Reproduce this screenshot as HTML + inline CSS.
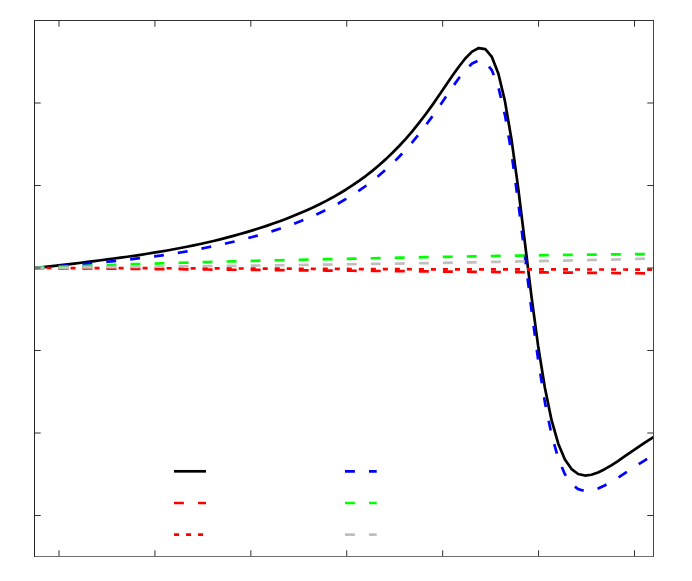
<!DOCTYPE html>
<html><head><meta charset="utf-8"><title>plot</title>
<style>
html,body{margin:0;padding:0;background:#ffffff;font-family:"Liberation Sans",sans-serif;}
svg{display:block}
</style></head>
<body>
<svg width="692" height="581" viewBox="0 0 692 581">
<rect x="0" y="0" width="692" height="581" fill="#ffffff"/>
<defs><clipPath id="c"><rect x="34.5" y="20.5" width="619" height="536"/></clipPath></defs>
<g clip-path="url(#c)" fill="none" stroke-width="2.7" stroke-linejoin="round" stroke-linecap="butt">
<path d="M34.50,268.00 L41.13,267.30 L47.76,266.59 L54.39,265.86 L61.02,265.11 L67.65,264.34 L74.28,263.56 L80.91,262.75 L87.54,261.92 L94.17,261.08 L100.80,260.24 L107.43,259.39 L114.06,258.53 L120.69,257.65 L127.32,256.74 L133.95,255.79 L140.58,254.80 L147.21,253.77 L153.84,252.70 L160.47,251.60 L167.10,250.46 L173.73,249.27 L180.36,248.04 L186.99,246.75 L193.62,245.39 L200.25,243.98 L206.88,242.50 L213.51,240.95 L220.14,239.34 L226.77,237.65 L233.40,235.89 L240.03,234.05 L246.66,232.13 L253.29,230.13 L259.92,228.04 L266.55,225.86 L273.18,223.58 L279.81,221.20 L286.44,218.70 L293.07,216.09 L299.70,213.35 L306.33,210.47 L312.96,207.44 L319.59,204.25 L326.22,200.87 L332.85,197.30 L339.48,193.51 L346.11,189.49 L352.74,185.21 L359.37,180.66 L366.00,175.80 L372.63,170.61 L379.26,165.06 L385.89,159.13 L392.52,152.80 L399.15,146.03 L405.78,138.80 L412.41,131.09 L419.04,122.90 L425.67,114.22 L432.30,105.10 L438.93,95.60 L445.56,85.86 L452.19,76.10 L458.82,66.71 L465.45,58.26 L472.08,51.63 L478.71,48.05 L485.34,49.13 L491.87,56.92 L498.33,73.53 L504.88,100.87 L511.51,139.50 L518.14,187.65 L524.77,241.49 L531.40,295.83 L538.10,345.67 L544.84,387.58 L551.57,420.18 L558.27,443.74 L564.90,459.52 L571.53,469.10 L578.16,474.01 L584.79,475.55 L591.42,474.77 L598.05,472.48 L604.68,469.21 L611.31,465.31 L617.94,461.01 L624.57,456.49 L631.20,451.92 L637.83,447.39 L644.46,442.94 L651.09,438.59 L657.72,434.38" stroke="#000000"/>
<path d="M34.50,268.00 L41.13,268.06 L47.76,268.12 L54.39,268.17 L61.02,268.23 L67.65,268.29 L74.28,268.35 L80.91,268.40 L87.54,268.46 L94.17,268.52 L100.80,268.58 L107.43,268.63 L114.06,268.69 L120.69,268.75 L127.32,268.81 L133.95,268.87 L140.58,268.92 L147.21,268.98 L153.84,269.04 L160.47,269.10 L167.10,269.15 L173.73,269.21 L180.36,269.27 L186.99,269.33 L193.62,269.38 L200.25,269.44 L206.88,269.50 L213.51,269.56 L220.14,269.62 L226.77,269.67 L233.40,269.73 L240.03,269.79 L246.66,269.85 L253.29,269.90 L259.92,269.96 L266.55,270.02 L273.18,270.08 L279.81,270.13 L286.44,270.19 L293.07,270.25 L299.70,270.31 L306.33,270.36 L312.96,270.42 L319.59,270.48 L326.22,270.54 L332.85,270.60 L339.48,270.65 L346.11,270.71 L352.74,270.77 L359.37,270.83 L366.00,270.88 L372.63,270.94 L379.26,271.00 L385.89,271.06 L392.52,271.11 L399.15,271.17 L405.78,271.23 L412.41,271.29 L419.04,271.35 L425.67,271.40 L432.30,271.46 L438.93,271.52 L445.56,271.58 L452.19,271.63 L458.82,271.69 L465.45,271.75 L472.08,271.81 L478.71,271.86 L485.34,271.92 L491.97,271.98 L498.60,272.04 L505.23,272.10 L511.86,272.15 L518.49,272.21 L525.12,272.27 L531.75,272.33 L538.38,272.38 L545.01,272.44 L551.64,272.50 L558.27,272.56 L564.90,272.61 L571.53,272.67 L578.16,272.73 L584.79,272.79 L591.42,272.85 L598.05,272.90 L604.68,272.96 L611.31,273.02 L617.94,273.08 L624.57,273.13 L631.20,273.19 L637.83,273.25 L644.46,273.31 L651.09,273.36 L657.72,273.42" stroke="#ff0000" stroke-dasharray="9.9 14.125"/>
<path d="M34.50,268.00 L41.13,268.01 L47.76,268.01 L54.39,268.02 L61.02,268.03 L67.65,268.03 L74.28,268.04 L80.91,268.05 L87.54,268.06 L94.17,268.07 L100.80,268.08 L107.43,268.10 L114.06,268.11 L120.69,268.12 L127.32,268.13 L133.95,268.15 L140.58,268.16 L147.21,268.18 L153.84,268.19 L160.47,268.21 L167.10,268.23 L173.73,268.25 L180.36,268.27 L186.99,268.29 L193.62,268.32 L200.25,268.34 L206.88,268.36 L213.51,268.39 L220.14,268.41 L226.77,268.44 L233.40,268.46 L240.03,268.49 L246.66,268.52 L253.29,268.54 L259.92,268.57 L266.55,268.60 L273.18,268.62 L279.81,268.65 L286.44,268.68 L293.07,268.71 L299.70,268.74 L306.33,268.77 L312.96,268.80 L319.59,268.84 L326.22,268.87 L332.85,268.90 L339.48,268.94 L346.11,268.97 L352.74,269.01 L359.37,269.04 L366.00,269.07 L372.63,269.10 L379.26,269.13 L385.89,269.15 L392.52,269.18 L399.15,269.20 L405.78,269.22 L412.41,269.23 L419.04,269.25 L425.67,269.27 L432.30,269.28 L438.93,269.30 L445.56,269.31 L452.19,269.33 L458.82,269.34 L465.45,269.35 L472.08,269.37 L478.71,269.38 L485.34,269.39 L491.97,269.40 L498.60,269.40 L505.23,269.41 L511.86,269.42 L518.49,269.43 L525.12,269.43 L531.75,269.44 L538.38,269.45 L545.01,269.45 L551.64,269.46 L558.27,269.47 L564.90,269.47 L571.53,269.48 L578.16,269.49 L584.79,269.49 L591.42,269.50 L598.05,269.50 L604.68,269.51 L611.31,269.51 L617.94,269.52 L624.57,269.52 L631.20,269.53 L637.83,269.53 L644.46,269.54 L651.09,269.54 L657.72,269.54" stroke="#ff0000" stroke-dasharray="5 7.0125"/>
<path d="M34.50,268.00 L41.13,267.53 L47.76,267.03 L54.39,266.52 L61.02,266.00 L67.65,265.45 L74.28,264.88 L80.91,264.29 L87.54,263.68 L94.17,263.05 L100.80,262.39 L107.43,261.72 L114.06,261.04 L120.69,260.35 L127.32,259.65 L133.95,258.91 L140.58,258.14 L147.21,257.33 L153.84,256.47 L160.47,255.56 L167.10,254.59 L173.73,253.56 L180.36,252.47 L186.99,251.33 L193.62,250.13 L200.25,248.87 L206.88,247.55 L213.51,246.18 L220.14,244.76 L226.77,243.28 L233.40,241.74 L240.03,240.14 L246.66,238.47 L253.29,236.72 L259.92,234.88 L266.55,232.94 L273.18,230.90 L279.81,228.74 L286.44,226.47 L293.07,224.08 L299.70,221.54 L306.33,218.86 L312.96,216.02 L319.59,213.01 L326.22,209.81 L332.85,206.40 L339.48,202.78 L346.11,198.93 L352.74,194.81 L359.37,190.42 L366.00,185.73 L372.63,180.70 L379.26,175.32 L385.89,169.56 L392.52,163.38 L399.15,156.76 L405.78,149.67 L412.41,142.09 L419.04,134.00 L425.67,125.42 L432.30,116.37 L438.93,106.94 L445.56,97.25 L452.19,87.56 L458.82,78.26 L465.45,69.96 L472.08,63.55 L478.71,60.30 L485.34,61.92 L491.97,70.45 L498.60,88.04 L505.23,116.33 L511.86,155.63 L518.49,204.19 L525.12,258.06 L531.75,312.10 L538.38,361.45 L545.01,402.86 L551.64,435.08 L558.27,458.45 L564.90,474.24 L571.53,483.98 L578.16,489.16 L584.79,491.04 L591.42,490.60 L598.05,488.58 L604.68,485.51 L611.31,481.80 L617.94,477.70 L624.57,473.42 L631.20,469.08 L637.83,464.76 L644.46,460.53 L651.09,456.43 L657.72,452.48" stroke="#0000ff" stroke-dasharray="9.9 14.125"/>
<path d="M34.50,268.00 L41.13,267.70 L47.76,267.41 L54.39,267.13 L61.02,266.86 L67.65,266.59 L74.28,266.32 L80.91,266.06 L87.54,265.81 L94.17,265.57 L100.80,265.32 L107.43,265.09 L114.06,264.86 L120.69,264.63 L127.32,264.41 L133.95,264.19 L140.58,263.98 L147.21,263.77 L153.84,263.56 L160.47,263.36 L167.10,263.16 L173.73,262.97 L180.36,262.77 L186.99,262.59 L193.62,262.40 L200.25,262.22 L206.88,262.04 L213.51,261.87 L220.14,261.69 L226.77,261.52 L233.40,261.35 L240.03,261.19 L246.66,261.02 L253.29,260.86 L259.92,260.70 L266.55,260.55 L273.18,260.39 L279.81,260.24 L286.44,260.08 L293.07,259.93 L299.70,259.79 L306.33,259.64 L312.96,259.49 L319.59,259.35 L326.22,259.21 L332.85,259.07 L339.48,258.93 L346.11,258.79 L352.74,258.65 L359.37,258.51 L366.00,258.38 L372.63,258.25 L379.26,258.11 L385.89,257.98 L392.52,257.85 L399.15,257.72 L405.78,257.59 L412.41,257.47 L419.04,257.34 L425.67,257.22 L432.30,257.10 L438.93,256.97 L445.56,256.85 L452.19,256.73 L458.82,256.61 L465.45,256.50 L472.08,256.38 L478.71,256.27 L485.34,256.16 L491.97,256.04 L498.60,255.93 L505.23,255.83 L511.86,255.72 L518.49,255.62 L525.12,255.51 L531.75,255.41 L538.38,255.31 L545.01,255.22 L551.64,255.12 L558.27,255.03 L564.90,254.94 L571.53,254.85 L578.16,254.76 L584.79,254.68 L591.42,254.60 L598.05,254.52 L604.68,254.45 L611.31,254.38 L617.94,254.31 L624.57,254.24 L631.20,254.18 L637.83,254.12 L644.46,254.07 L651.09,254.02 L657.72,253.97" stroke="#00ff00" stroke-dasharray="9.9 14.125"/>
<path d="M34.50,268.00 L41.13,267.93 L47.76,267.86 L54.39,267.80 L61.02,267.73 L67.65,267.66 L74.28,267.59 L80.91,267.52 L87.54,267.45 L94.17,267.38 L100.80,267.31 L107.43,267.24 L114.06,267.17 L120.69,267.10 L127.32,267.03 L133.95,266.96 L140.58,266.89 L147.21,266.81 L153.84,266.74 L160.47,266.67 L167.10,266.59 L173.73,266.52 L180.36,266.44 L186.99,266.37 L193.62,266.29 L200.25,266.22 L206.88,266.14 L213.51,266.06 L220.14,265.98 L226.77,265.90 L233.40,265.82 L240.03,265.74 L246.66,265.66 L253.29,265.58 L259.92,265.49 L266.55,265.41 L273.18,265.33 L279.81,265.24 L286.44,265.15 L293.07,265.07 L299.70,264.98 L306.33,264.89 L312.96,264.80 L319.59,264.71 L326.22,264.62 L332.85,264.53 L339.48,264.43 L346.11,264.34 L352.74,264.24 L359.37,264.15 L366.00,264.05 L372.63,263.95 L379.26,263.85 L385.89,263.75 L392.52,263.65 L399.15,263.54 L405.78,263.44 L412.41,263.33 L419.04,263.23 L425.67,263.12 L432.30,263.01 L438.93,262.90 L445.56,262.79 L452.19,262.67 L458.82,262.56 L465.45,262.44 L472.08,262.33 L478.71,262.21 L485.34,262.09 L491.97,261.97 L498.60,261.85 L505.23,261.72 L511.86,261.60 L518.49,261.47 L525.12,261.34 L531.75,261.21 L538.38,261.08 L545.01,260.95 L551.64,260.81 L558.27,260.68 L564.90,260.54 L571.53,260.40 L578.16,260.26 L584.79,260.12 L591.42,259.97 L598.05,259.83 L604.68,259.68 L611.31,259.53 L617.94,259.38 L624.57,259.23 L631.20,259.07 L637.83,258.91 L644.46,258.76 L651.09,258.60 L657.72,258.43" stroke="#bfbfbf" stroke-dasharray="9.9 14.125"/>
</g>
<g fill="none" stroke-width="2.7" stroke-linecap="butt">
<path d="M174,471.3H206" stroke="#000000"/>
<path d="M174,503H206" stroke="#ff0000" stroke-dasharray="9.9 14.125"/>
<path d="M174,534.6H206" stroke="#ff0000" stroke-dasharray="5 7.0125"/>
<path d="M345,471.3H376.7" stroke="#0000ff" stroke-dasharray="9.9 14.125"/>
<path d="M345,503H376.7" stroke="#00ff00" stroke-dasharray="9.9 14.125"/>
<path d="M345,534.7H376.7" stroke="#bfbfbf" stroke-dasharray="9.9 14.125"/>
</g>
<g fill="none" stroke-width="1">
<path d="M59.00,556.5V550.3M59.00,20.5V26.7M154.92,556.5V550.3M154.92,20.5V26.7M250.83,556.5V550.3M250.83,20.5V26.7M346.75,556.5V550.3M346.75,20.5V26.7M442.67,556.5V550.3M442.67,20.5V26.7M538.58,556.5V550.3M538.58,20.5V26.7M634.50,556.5V550.3M634.50,20.5V26.7M34.5,103.00H40.7M653.5,103.00H647.3M34.5,185.50H40.7M653.5,185.50H647.3M34.5,268.00H40.7M653.5,268.00H647.3M34.5,350.50H40.7M653.5,350.50H647.3M34.5,433.00H40.7M653.5,433.00H647.3M34.5,515.50H40.7M653.5,515.50H647.3" stroke="#2e2e2e"/>
<path d="M34,556.5H654" stroke="#6e6e6e"/>
<path d="M653.5,20V557" stroke="#444444"/>
<path d="M34,20.5H654" stroke="#333333"/>
<path d="M34.5,20V557" stroke="#262626"/>
</g>
</svg>
</body></html>
